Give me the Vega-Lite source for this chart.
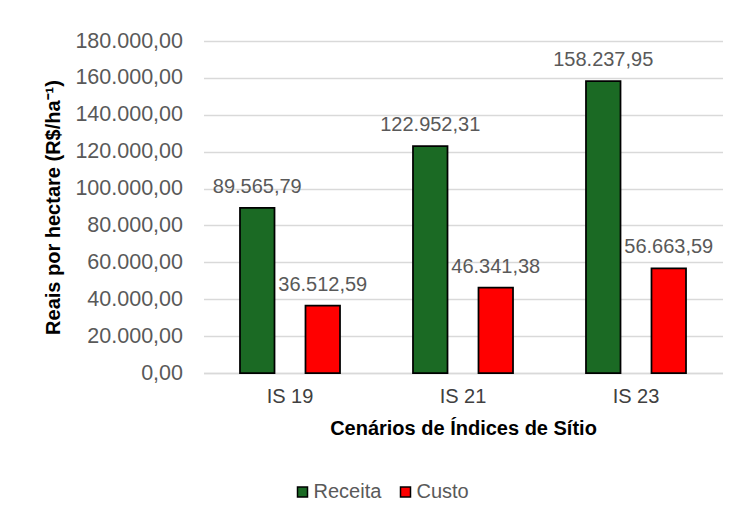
{
  "$schema": "https://vega.github.io/schema/vega-lite/v6.json",
  "width": 519,
  "height": 332,
  "autosize": "none",
  "padding": {"left": 203.5, "top": 41, "right": 16.5, "bottom": 147},
  "background": "white",
  "config": {
    "locale": {"number": {"decimal": ",", "thousands": ".", "grouping": [3], "currency": ["R$", ""]}},
    "font": "Liberation Sans",
    "view": {"stroke": null},
    "axis": {
      "labelFont": "Liberation Sans",
      "titleFont": "Liberation Sans",
      "labelFontSize": 20,
      "titleFontSize": 20,
      "titleFontWeight": "bold",
      "titleColor": "#000000",
      "ticks": false,
      "gridColor": "#d9d9d9",
      "gridWidth": 1.5
    }
  },
  "data": {
    "values": [
      {"cenario": "IS 19", "serie": "Receita", "valor": 89565.79},
      {"cenario": "IS 19", "serie": "Custo", "valor": 36512.59},
      {"cenario": "IS 21", "serie": "Receita", "valor": 122952.31},
      {"cenario": "IS 21", "serie": "Custo", "valor": 46341.38},
      {"cenario": "IS 23", "serie": "Receita", "valor": 158237.95},
      {"cenario": "IS 23", "serie": "Custo", "valor": 56663.59}
    ]
  },
  "encoding": {
    "x": {
      "field": "cenario",
      "type": "nominal",
      "sort": ["IS 19", "IS 21", "IS 23"],
      "scale": {"paddingInner": 0, "paddingOuter": 0},
      "title": "Cenários de Índices de Sítio",
      "axis": {
        "labelAngle": 0,
        "labelPadding": 13,
        "labelColor": "#404040",
        "domainColor": "#d9d9d9",
        "domainWidth": 1.5,
        "titlePadding": 12,
        "grid": false
      }
    },
    "xOffset": {
      "field": "serie",
      "type": "nominal",
      "sort": ["Receita", "Custo"],
      "scale": {"paddingInner": 0.473, "paddingOuter": 0.557}
    },
    "y": {
      "field": "valor",
      "type": "quantitative",
      "scale": {"domain": [0, 180000]},
      "title": "Reais por hectare (R$/ha⁻¹)",
      "axis": {
        "values": [0, 20000, 40000, 60000, 80000, 100000, 120000, 140000, 160000, 180000],
        "format": ",.2f",
        "labelFontSize": 21.5,
        "labelPadding": 21,
        "labelColor": "#595959",
        "domain": false,
        "titlePadding": 11
      }
    }
  },
  "layer": [
    {
      "mark": {"type": "bar", "stroke": "#000000", "strokeWidth": 1.75},
      "encoding": {
        "color": {
          "field": "serie",
          "type": "nominal",
          "scale": {"domain": ["Receita", "Custo"], "range": ["#1b6a24", "#ff0000"]},
          "legend": {
            "title": null,
            "orient": "none",
            "legendX": 89,
            "legendY": 441,
            "direction": "horizontal",
            "symbolType": "square",
            "symbolSize": 100,
            "symbolStrokeColor": "#000000",
            "symbolStrokeWidth": 1.5,
            "labelFontSize": 20,
            "labelColor": "#595959",
            "labelOffset": 1,
            "columnPadding": 14
          }
        }
      }
    },
    {
      "mark": {"type": "text", "baseline": "alphabetic", "dy": -15, "fontSize": 20, "color": "#595959"},
      "encoding": {
        "text": {"field": "valor", "type": "quantitative", "format": ",.2f"}
      }
    }
  ]
}
